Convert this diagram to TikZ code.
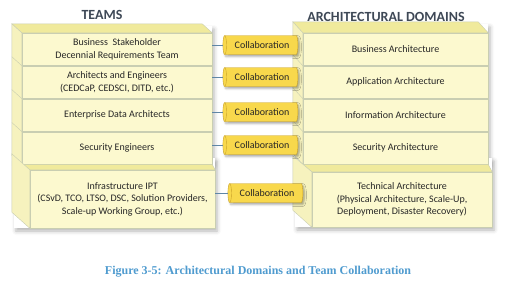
\documentclass[tikz,border=0pt]{standalone}
\usepackage{fontspec}
\setmainfont{Liberation Serif}
\setsansfont{Carlito}
\usetikzlibrary{
  calc,
  positioning,
  shapes.geometric,
  shadows.blur
}
\definecolor{slabfront}{HTML}{FCF9CF}
\definecolor{slabtop}{HTML}{F0EA9C}
\definecolor{slabside}{HTML}{F6F2BE}
\definecolor{slabedge}{HTML}{C9CEB2}
\definecolor{collabfill}{HTML}{F8D84C}
\definecolor{collabedge}{HTML}{C9A22A}
\definecolor{linkblue}{HTML}{5F86A6}
\definecolor{headgray}{HTML}{3E4856}
\definecolor{capblue}{HTML}{4F9BCF}

\tikzset{
  slab/.style={draw=slabedge, fill=slabfront, align=center, inner sep=1pt,
    font=\sffamily\fontsize{10}{12.5}\selectfont, text=black!85},
  teamrow/.style={slab, minimum width=190pt, minimum height=32.5pt},
  domainrow/.style={slab, minimum width=185pt, minimum height=32.5pt},
  topface/.style={draw=slabedge, fill=slabtop},
  sideface/.style={draw=slabedge, fill=slabside},
  collab/.style={cylinder, shape border rotate=180, aspect=0.3,
    draw=collabedge, fill=collabfill,
    minimum width=19pt, minimum height=75pt, inner sep=2.5pt,
    font=\sffamily\fontsize{10}{12}\selectfont, text=black!85,
    blur shadow={shadow xshift=1.5pt, shadow yshift=-2pt, shadow blur radius=2pt, shadow opacity=35}},
  link/.style={draw=linkblue, thin},
  heading/.style={font=\sffamily\bfseries\fontsize{14}{16}\selectfont, text=headgray}
}

\begin{document}
\begin{tikzpicture}[x=1pt,y=-1pt]
  \useasboundingbox (0,0) rectangle (505,298);

  % soft shadows behind the stacks
  \path[fill=white, blur shadow={shadow xshift=2pt, shadow yshift=-3pt, shadow blur radius=4pt, shadow opacity=30}]
    (14,26) rectangle (212,163);
  \path[fill=white, blur shadow={shadow xshift=2pt, shadow yshift=-3pt, shadow blur radius=4pt, shadow opacity=30}]
    (14,158) rectangle (215,228);
  \path[fill=white, blur shadow={shadow xshift=2pt, shadow yshift=-3pt, shadow blur radius=4pt, shadow opacity=30}]
    (295,24) rectangle (488,163);
  \path[fill=white, blur shadow={shadow xshift=2pt, shadow yshift=-3pt, shadow blur radius=4pt, shadow opacity=30}]
    (295,158) rectangle (492,227);

  \node[heading] (teams) at (102,15) {TEAMS};
  \node[heading] (domains) at (386,17) {ARCHITECTURAL DOMAINS};

  % teams
  \node[teamrow] (t1) at (117,49.25) {Business~~Stakeholder\\Decennial Requirements Team};
  \node[teamrow, below=0pt of t1] (t2) {Architects and Engineers\\(CEDCaP, CEDSCI, DITD, etc.)};
  \node[teamrow, below=0pt of t2] (t3) {Enterprise Data Architects};
  \node[teamrow, below=0pt of t3] (t4) {Security Engineers};
  \node[slab, minimum width=185pt, minimum height=58pt] (t5) at (122.5,199)
    {Infrastructure IPT\\(CSvD, TCO, LTSO, DSC, Solution Providers,\\Scale-up Working Group, etc.)};

  \draw[topface] (t1.north west) -- ++(-10,-9) -- ($(t1.north east)+(-10,-9)$) -- (t1.north east) -- cycle;
  \draw[sideface] (t1.north west) -- ++(-10,-9) -- ($(t4.south west)+(-10,-9)$) -- (t4.south west) -- cycle;
  \foreach \r in {t2,t3,t4}
    \draw[slabedge] (\r.north west) -- ++(-10,-9);
  \draw[topface] (t4.south west) -- (t4.south east) -- (t5.north east) -- (t5.north west) -- cycle;
  \draw[sideface] (t5.north west) -- ($(t5.north west)+(-18,-16)$) -- ($(t5.south west)+(-18,-16)$) -- (t5.south west) -- cycle;

  % domains
  \node[domainrow] (d1) at (395.5,49.25) {Business Architecture};
  \node[domainrow, below=0pt of d1] (d2) {Application Architecture};
  \node[domainrow, below=0pt of d2] (d3) {Information Architecture};
  \node[domainrow, below=0pt of d3] (d4) {Security Architecture};
  \node[slab, minimum width=180pt, minimum height=55pt] (d5) at (402,199.5)
    {Technical Architecture\\(Physical Architecture, Scale-Up,\\Deployment, Disaster Recovery)};

  \draw[topface] (d1.north west) -- ++(-10,-11) -- ($(d1.north east)+(-10,-11)$) -- (d1.north east) -- cycle;
  \draw[sideface] (d1.north west) -- ++(-10,-11) -- ($(d4.south west)+(-10,-11)$) -- (d4.south west) -- cycle;
  \foreach \r in {d2,d3,d4}
    \draw[slabedge] (\r.north west) -- ++(-10,-11);
  \draw[topface] (d4.south west) -- (d4.south east) -- (d5.north east) -- (d5.north west) -- cycle;
  \draw[sideface] (d5.north west) -- ($(d5.north west)+(-19,-16)$) -- ($(d5.south west)+(-19,-17)$) -- (d5.south west) -- cycle;

  % collaboration links
  \node[collab] (c1) at (262,45)  {Collaboration};
  \node[collab] (c2) at (262,77)  {Collaboration};
  \node[collab] (c3) at (262,112) {Collaboration};
  \node[collab] (c4) at (262,145) {Collaboration};
  \node[collab] (c5) at (267,193) {Collaboration};
  \foreach \i in {1,...,5}
    \draw[link] (t\i.east |- c\i.west) -- (c\i.west);

  \node[font=\bfseries\fontsize{12}{14}\selectfont, text=capblue] (caption) at (258,272)
    {Figure 3-5: Architectural Domains and Team Collaboration};
\end{tikzpicture}
\end{document}
